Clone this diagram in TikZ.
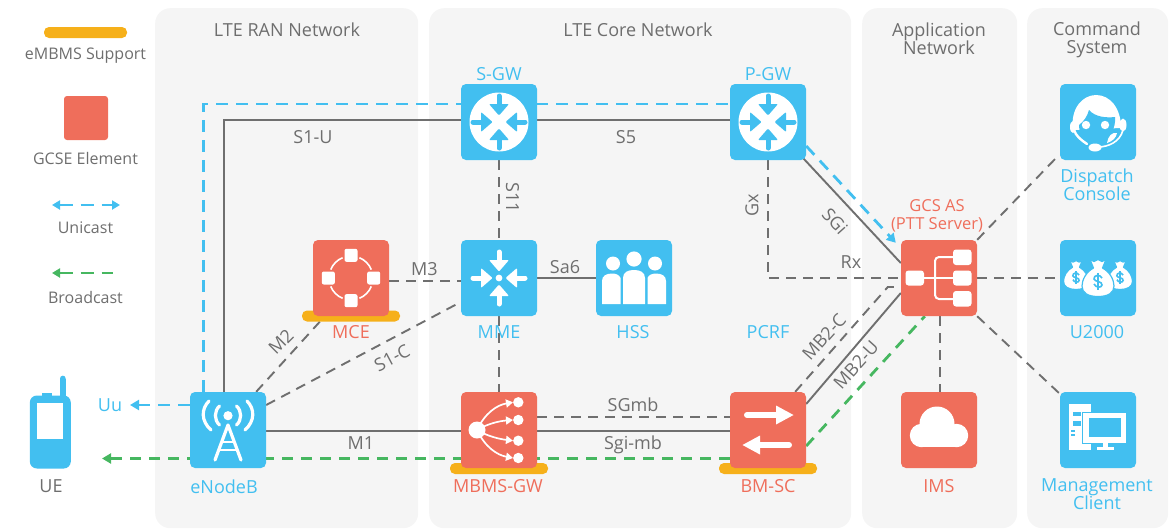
\documentclass[tikz,border=0pt]{standalone}
\usepackage{fontspec}
\setmainfont{Open Sans}
\usetikzlibrary{arrows.meta,backgrounds,calc}
\definecolor{cblue}{HTML}{42BFF0}
\definecolor{cred}{HTML}{EF6E5B}
\definecolor{cyel}{HTML}{F6B01A}
\definecolor{cgreen}{HTML}{46B760}
\definecolor{cgray}{HTML}{6F6F6F}
\definecolor{ctext}{HTML}{6E6E6E}
\definecolor{cpanel}{HTML}{F5F5F5}
\tikzset{
  panel/.style={fill=cpanel,rounded corners=15pt,inner sep=0pt,anchor=north west},
  bluebox/.style={fill=cblue,rounded corners=5pt,minimum size=76pt,inner sep=0pt},
  redbox/.style={fill=cred,rounded corners=5pt,minimum size=76pt,inner sep=0pt},
  yelbar/.style={fill=cyel,rounded corners=5pt,minimum width=98pt,minimum height=11pt,inner sep=0pt},
  txt/.style={font=\fontsize{18}{18}\selectfont,align=center,inner sep=0pt},
  title/.style={txt,text=ctext},
  lab/.style={txt,text=ctext},
  leg/.style={txt,text=ctext,font=\fontsize{16}{16}\selectfont},
  bluelab/.style={txt,text=cblue},
  redlab/.style={txt,text=cred},
  solidl/.style={draw=cgray,line width=1.9pt},
  dashl/.style={draw=cgray,line width=1.9pt,dash pattern=on 10pt off 7pt},
  bluel/.style={draw=cblue,line width=2.8pt,dash pattern=on 12pt off 8pt},
  greenl/.style={draw=cgreen,line width=2.8pt,dash pattern=on 11pt off 8pt},
  tipb/.style={-{Triangle[length=9pt,width=10pt]}},
}
\newcommand{\inarrows}[1]{%
  \foreach \rr in {0,90,180,270}{
    \begin{scope}[rotate=\rr]
      \draw[#1,line width=5pt,line cap=round] (0,-26) -- (0,-15);
      \fill[#1,rounded corners=1pt] (-10,-18) -- (10,-18) -- (0,-6.5) -- cycle;
    \end{scope}}}
\newcommand{\moneybag}[3]{% x,y,scale
  \begin{scope}[shift={(#1,#2)},scale=#3]
    \filldraw[white,draw=cblue,line width=1.2pt,line join=round] (-8,-18.5) -- (-4,-16.5) -- (0,-18.5) -- (4,-16.5) -- (8,-18.5) -- (4.5,-10)
      .. controls (12,-6) and (16,2) .. (16,8) .. controls (16,15) and (10,18.5) .. (0,18.5)
      .. controls (-10,18.5) and (-16,15) .. (-16,8) .. controls (-16,2) and (-12,-6) .. (-4.5,-10) -- cycle;
    \draw[cblue,line width=1.6pt] (4,0) .. controls (2,-4) and (-4.5,-3) .. (-4,1) .. controls (-3.5,4) and (4.5,3) .. (4,7) .. controls (3.5,10) and (-2,10) .. (-4,6);
    \draw[cblue,line width=1.2pt] (0,-5) -- (0,12);
  \end{scope}}
\begin{document}
\begin{tikzpicture}[x=1pt,y=-1pt]
\useasboundingbox (0,0) rectangle (1176,528);
% panels
\begin{scope}[on background layer]
  \node[panel,minimum width=263pt,minimum height=520pt] (ran) at (155,8) {};
  \node[panel,minimum width=422pt,minimum height=520pt] (core) at (429,8) {};
  \node[panel,minimum width=155pt,minimum height=520pt] (app) at (862,8) {};
  \node[panel,minimum width=141pt,minimum height=520pt] (cmd) at (1027,8) {};
\end{scope}
% boxes
\node[bluebox] (enb) at (228,430) {};
\node[bluebox] (sgw) at (499,122) {};
\node[bluebox] (pgw) at (768,122) {};
\node[bluebox] (mme) at (499,278) {};
\node[bluebox] (hss) at (634,278) {};
\node[yelbar] (mcebar) at (351,316) {};
\node[redbox] (mce) at (351,278) {};
\node[yelbar] (mbmsbar) at (499,468.5) {};
\node[redbox] (mbms) at (499,430) {};
\node[yelbar] (bmscbar) at (768,468.5) {};
\node[redbox] (bmsc) at (768,430) {};
\node[redbox] (gcs) at (939,278) {};
\node[redbox] (ims) at (939,430) {};
\node[bluebox] (disp) at (1098,122) {};
\node[bluebox] (u2k) at (1098,278) {};
\node[bluebox] (mgmt) at (1098,430) {};
\coordinate (uet) at (130,405);
\coordinate (ueb) at (102,458.5);
% connectors
\begin{scope}[on background layer]
  \draw[solidl] ($(enb.north west)+(34,0)$) |- ($(sgw.west)+(0,-2)$);
  \draw[solidl] ($(sgw.east)+(0,-2)$) -- ($(pgw.west)+(0,-2)$);
  \draw[solidl] (hss.west) -- (mme.east);
  \draw[solidl] ($(enb.east)+(0,1)$) -- ($(mbms.west)+(0,1)$);
  \draw[solidl] ($(mbms.east)+(0,1)$) -- ($(bmsc.west)+(0,1)$);
  \draw[solidl] ($(pgw.south east)+(-3,-2)$) -- ($(gcs.west)+(0,-15)$);
  \draw[solidl] ($(bmsc.east)+(0,-26)$) -- ($(gcs.west)+(0,15)$);
  \draw[dashl] ($(sgw.south)$) -- (mme.north);
  \draw[dashl] (mme.south) -- (mbms.north);
  \draw[dashl] ($(mce.east)+(0,3)$) -- ($(mme.west)+(0,3)$);
  \draw[dashl] ($(enb.north east)+(-10,0)$) -- ($(mcebar.south west)+(18,0)$);
  \draw[dashl] ($(enb.east)+(0,-25)$) -- ($(mme.west)+(0,24)$);
  \draw[dashl] ($(mbms.east)+(0,-13)$) -- ($(bmsc.west)+(0,-13)$);
  \draw[dashl] (pgw.south) |- (gcs.west);
  \draw[dashl] ($(bmsc.north east)+(-11,0)$) -- ($(gcs.west)+(-13,9)$) -- ($(gcs.west)+(0,9)$);
  \draw[dashl] (gcs.north east) -- ($(disp.south west)+(-3,-3)$);
  \draw[dashl] (gcs.east) -- (u2k.west);
  \draw[dashl] ($(gcs.south)+(1,0)$) -- ($(ims.north)+(1,0)$);
  \draw[dashl] (gcs.south east) -- ($(mgmt.north west)+(0,2)$);
  \draw[bluel] ($(enb.north west)+(14,0)$) |- ($(pgw.west)+(0,-18)$);
  \draw[bluel,tipb] ($(pgw.east)+(0,24)$) -- ($(gcs.north west)+(-5,3)$);
  \draw[bluel,tipb] ($(enb.west)+(0,-25)$) -- (uet);
  \draw[greenl,tipb] ($(bmsc.west)+(0,28.5)$) -- (ueb);
  \draw[greenl] ($(bmsc.east)+(0,16)$) -- ($(gcs.south west)+(24,0)$);
\end{scope}
% router icons
\fill[white] (sgw.center) circle (29.5);
\begin{scope}[shift={(sgw.center)}] \inarrows{cblue} \end{scope}
\fill[white] (pgw.center) circle (29.5);
\begin{scope}[shift={(pgw.center)}] \inarrows{cblue} \end{scope}
% MME icon
\begin{scope}[shift={(mme.center)}]
  \inarrows{white}
  \fill[white] (0,0) circle (3.4);
\end{scope}
% MCE icon
\begin{scope}[shift={(mce.center)}]
  \foreach \aa in {0,90,180,270}{
    \begin{scope}[rotate=\aa]
      \draw[white,line width=1.6pt] (20.3,-8.4) .. controls (18.1,-13.8) and (13.8,-18.1) .. (8.4,-20.3);
      \fill[white,rounded corners=2pt] (16.2,-6.5) rectangle (29.2,6.5);
    \end{scope}}
\end{scope}
% HSS icon
\begin{scope}[shift={(hss.center)}]
  \fill[white] (0,-19) circle (7.6);
  \fill[white] (-21,-14.5) circle (7);
  \fill[white] (21,-14.5) circle (7);
  \fill[white] (-11,26) -- (-11,0) .. controls (-11,-6) and (-6,-8) .. (0,-8) .. controls (6,-8) and (11,-6) .. (11,0) -- (11,26) -- cycle;
  \fill[white] (-32,26) -- (-32,3) .. controls (-32,-2) and (-28,-4.5) .. (-22,-4.5) .. controls (-18,-4.5) and (-14.5,-3) .. (-13.5,0) -- (-13.5,26) -- cycle;
  \fill[white] (32,26) -- (32,3) .. controls (32,-2) and (28,-4.5) .. (22,-4.5) .. controls (18,-4.5) and (14.5,-3) .. (13.5,0) -- (13.5,26) -- cycle;
\end{scope}
% eNodeB icon
\begin{scope}[shift={(enb.center)}]
  \fill[white] (0,-14.3) circle (4.6);
  \draw[white,line width=3.2pt,line cap=round,line join=round] (-13,30) -- (0,-5) -- (13,30);
  \draw[white,line width=2.8pt] (-6.5,12) -- (6.5,12);
  \draw[white,line width=2.8pt] (-9,20) -- (9,20);
  \draw[white,line width=3.2pt,line cap=round] (-8.5,-5) .. controls (-14,-10) and (-14,-19) .. (-8.5,-24);
  \draw[white,line width=3.2pt,line cap=round] (8.5,-5) .. controls (14,-10) and (14,-19) .. (8.5,-24);
  \draw[white,line width=3.2pt,line cap=round] (-17,0) .. controls (-27,-9) and (-27,-21) .. (-19,-29);
  \draw[white,line width=3.2pt,line cap=round] (17,0) .. controls (27,-9) and (27,-21) .. (19,-29);
\end{scope}
% MBMS icon
\begin{scope}[shift={(mbms.center)}]
  \fill[white] (-22,0) circle (8.5);
  \foreach \yy in {-27.7,-10,10.7,28}{ \fill[white] (19.3,\yy) circle (5.2); }
  \draw[white,line width=1.7pt,-{Triangle[length=7pt,width=8pt]}] (-22,0) .. controls (-14,-17) and (-2,-25) .. (14,-27.7);
  \draw[white,line width=1.7pt,-{Triangle[length=7pt,width=8pt]}] (-22,0) .. controls (-12,-6) and (0,-9) .. (14,-10);
  \draw[white,line width=1.7pt,-{Triangle[length=7pt,width=8pt]}] (-22,0) .. controls (-12,6) and (0,9) .. (14,10.7);
  \draw[white,line width=1.7pt,-{Triangle[length=7pt,width=8pt]}] (-22,0) .. controls (-14,17) and (-2,25) .. (14,28);
\end{scope}
% BM-SC icon
\begin{scope}[shift={(bmsc.center)}]
  \draw[white,line width=6pt,line cap=round] (-21,-15) -- (10,-15);
  \fill[white] (8,-24.5) -- (25.5,-15) -- (8,-5.5) -- cycle;
  \draw[white,line width=6pt,line cap=round] (21,15) -- (-10,15);
  \fill[white] (-8,5.5) -- (-25.5,15) -- (-8,24.5) -- cycle;
\end{scope}
% GCS AS icon
\begin{scope}[shift={(gcs.center)}]
  \fill[white,rounded corners=3pt] (-33.5,-7.5) rectangle (-15,7.5);
  \fill[white,rounded corners=3pt] (14,-28.5) rectangle (32.5,-13);
  \fill[white,rounded corners=3pt] (14,-7.5) rectangle (32.5,7.5);
  \fill[white,rounded corners=3pt] (14,13) rectangle (32.5,28.5);
  \draw[white,line width=2pt] (-15,0) -- (14,0);
  \draw[white,line width=2pt,rounded corners=4pt] (15,-21) -- (-4,-21) -- (-4,21) -- (15,21);
\end{scope}
% IMS icon
\begin{scope}[shift={(ims.center)}]
  \fill[white] (-2,-6) circle (17.5);
  \fill[white] (-17.5,5.5) circle (11.7);
  \fill[white] (17.5,5.5) circle (11.7);
  \fill[white] (-17.5,0) rectangle (17.5,17.2);
\end{scope}
% Management icon
\begin{scope}[shift={(mgmt.center)}]
  \fill[white] (-29,-26) rectangle (-7,20);
  \fill[cblue] (-25.5,-18) rectangle (-17.5,-14);
  \fill[cblue] (-25.5,-9) rectangle (-17.5,-4.5);
  \fill[cblue] (-27,0) rectangle (-23,1.7);
  \fill[cblue] (-27,4) rectangle (-23,5.7);
  \fill[cblue] (-16.5,-18.5) rectangle (29,14);
  \fill[white] (-15,-17) rectangle (28,12.5);
  \fill[cblue] (-9.5,-12) rectangle (23,7);
  \fill[white] (4.5,12.5) rectangle (10,17.5);
  \fill[white] (-1,17) rectangle (15.5,20);
\end{scope}
% Dispatch icon
\begin{scope}[shift={(disp.center)}]
  \fill[white] (-25,8) .. controls (-28,-14) and (-15,-27) .. (-2,-27) .. controls (12,-27) and (23,-14) .. (23,6) -- cycle;
  \fill[cblue] (-19,3) .. controls (-14,-1) and (-11,-5) .. (-9,-12) .. controls (-3,-5) and (8,-4) .. (17,-5)
     .. controls (18,5) and (13,18) .. (-3,22) .. controls (-13,20) and (-19,12) .. cycle;
  \fill[white] (-12,3) circle (4.2);
  \fill[white] (7,3) circle (4.2);
  \fill[white] (-25,5) ellipse (3 and 6);
  \fill[white] (25,3) ellipse (3.5 and 6.5);
  \draw[white,line width=2.4pt,line cap=round] (-24,8) .. controls (-22,14) and (-17,18) .. (-11,22);
  \fill[white] (-3,25.5) ellipse (6.5 and 4);
  \draw[white,line width=1.6pt] (0,25) .. controls (10,25) and (22,20) .. (25,8);
  \fill[white] (9,21) .. controls (10,14) and (14,10) .. (19,11) .. controls (18,16) and (15,19) .. (9,21) -- cycle;
\end{scope}
% U2000 icon
\begin{scope}[shift={(u2k.center)}]
  \moneybag{-22}{-3}{0.78}
  \moneybag{22}{-3}{0.78}
  \moneybag{0}{0}{1}
\end{scope}
% UE phone
\fill[cblue] (60,378.5) rectangle (65.7,397);
\fill[cblue] (62.85,378.5) circle (2.85);
\fill[cblue] (42,393) rectangle (52,398);
\node[fill=cblue,rounded corners=7pt,minimum width=41pt,minimum height=73pt,inner sep=0pt] (ue) at (50.3,432) {};
\node[fill=white,minimum width=26.6pt,minimum height=36pt,inner sep=0pt] (uescr) at (50,421) {};
% legend
\node[fill=cyel,rounded corners=5pt,minimum width=83pt,minimum height=11pt,inner sep=0pt] (legbar) at (85.5,32.5) {};
\node[fill=cred,rounded corners=3pt,minimum size=44pt,inner sep=0pt] (legsq) at (86,118) {};
\coordinate (lua) at (52,205); \coordinate (lub) at (120,205);
\coordinate (lba) at (52,273); \coordinate (lbb) at (113,273);
\draw[cblue,line width=2.4pt,dash pattern=on 13pt off 8pt,{Triangle[length=8pt,width=9pt]}-{Triangle[length=8pt,width=9pt]}] (lua) -- (lub);
\draw[cgreen,line width=2.4pt,dash pattern=on 13pt off 8pt,{Triangle[length=8pt,width=9pt]}-] (lba) -- (lbb);
\node[leg] (t1) at (85.5,55.5) {eMBMS Support};
\node[leg] (t2) at (85.5,158.5) {GCSE Element};
\node[leg] (t3) at (85.5,228) {Unicast};
\node[leg] (t4) at (85.5,297.5) {Broadcast};
% titles
\node[title] (tran) at (287,29.5) {LTE RAN Network};
\node[title] (tcore) at (638,29.5) {LTE Core Network};
\node[title] (tapp) at (939,38.5) {Application\\Network};
\node[title] (tcmd) at (1097,39.5) {Command\\System};
% node labels
\node[bluelab] at (499,74.5) (lsgw) {S-GW};
\node[bluelab] at (768,74.5) (lpgw) {P-GW};
\node[bluelab] at (499,332.5) (lmme) {MME};
\node[bluelab] at (633,332.5) (lhss) {HSS};
\node[bluelab] at (768,332.5) (lpcrf) {PCRF};
\node[bluelab] at (224,486.5) (lenb) {eNodeB};
\node[bluelab] at (110,405) (luu) {Uu};
\node[bluelab] at (1097,184.5) (ldisp) {Dispatch\\Console};
\node[bluelab] at (1097,332.5) (lu2k) {U2000};
\node[bluelab] at (1097,494.5) (lmgmt) {Management\\Client};
\node[redlab] at (351,332.5) (lmce) {MCE};
\node[redlab] at (498,486.5) (lmbms) {MBMS-GW};
\node[redlab] at (768,486.5) (lbmsc) {BM-SC};
\node[redlab] at (939,486.5) (lims) {IMS};
\node[redlab,font=\fontsize{16.5}{18}\selectfont] at (937,215.5) (lgcs) {GCS AS\\(PTT Server)};
\node[lab] at (51,486.5) (lue) {UE};
% connector labels
\node[lab] at (313,137.5) (ls1u) {S1-U};
\node[lab] at (626,137.5) (ls5) {S5};
\node[lab,rotate=-90] at (512.5,198) (ls11) {S11};
\node[lab,rotate=90] at (752,205) (lgx) {Gx};
\node[lab,rotate=-48] at (835,221) (lsgi) {SGi};
\node[lab] at (851,262.5) (lrx) {Rx};
\node[lab] at (424.5,269.5) (lm3) {M3};
\node[lab] at (565,267.5) (lsa6) {Sa6};
\node[lab,rotate=45] at (281,342) (lm2) {M2};
\node[lab,rotate=28] at (392,358) (ls1c) {S1-C};
\node[lab,rotate=48] at (824,337) (lmbc) {MB2-C};
\node[lab,rotate=48] at (856,365) (lmbu) {MB2-U};
\node[lab] at (633,404.5) (lsgmb) {SGmb};
\node[lab] at (633,444.5) (lsgimb) {Sgi-mb};
\node[lab] at (361,443.5) (lm1) {M1};
\end{tikzpicture}
\end{document}
